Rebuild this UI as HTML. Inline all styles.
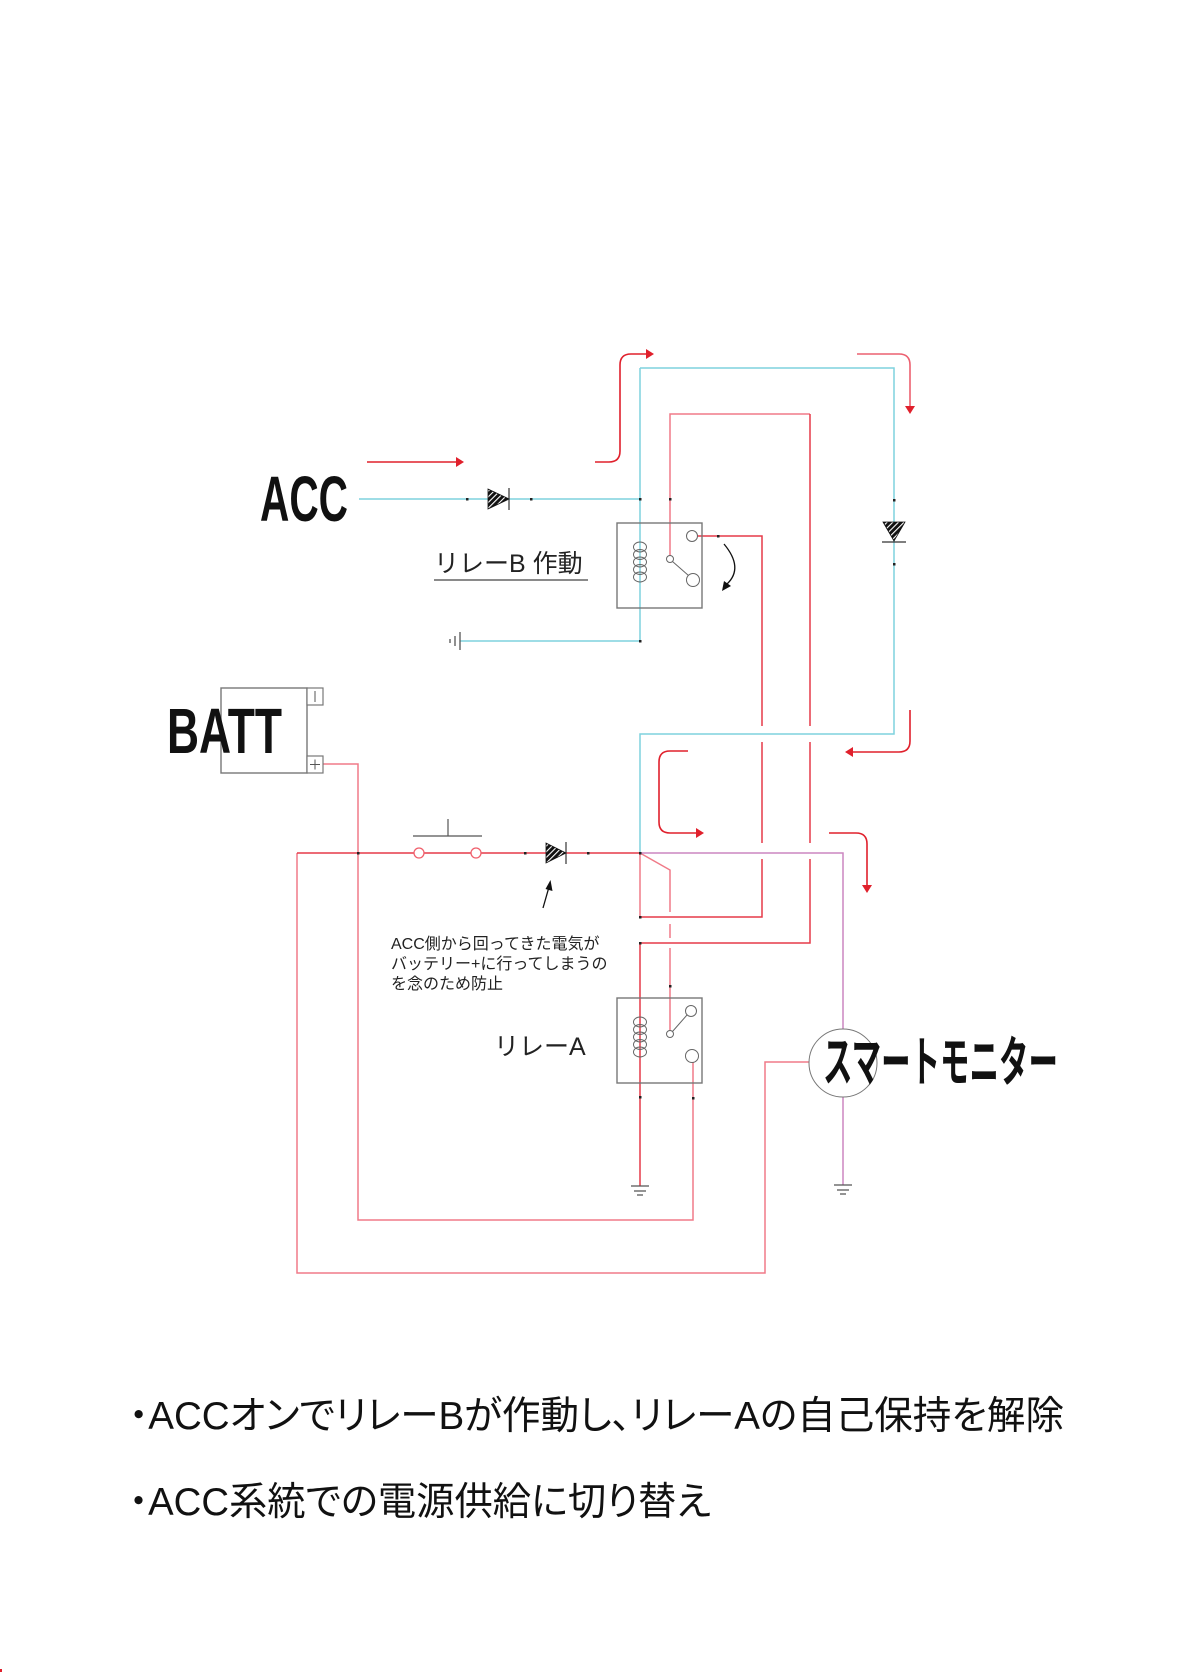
<!DOCTYPE html>
<html><head><meta charset="utf-8"><style>
html,body{margin:0;padding:0;background:#fff;}
svg{display:block;}
text{font-family:"Liberation Sans","Noto Sans CJK JP",sans-serif;}
</style></head><body>
<svg width="1190" height="1680" viewBox="0 0 1190 1680" xmlns="http://www.w3.org/2000/svg">
<defs>
<pattern id="h" width="4" height="4" patternUnits="userSpaceOnUse" patternTransform="rotate(45)">
<rect width="4" height="4" fill="#111"/><rect width="1.1" height="4" fill="#fff"/>
</pattern>
</defs>
<rect width="1190" height="1680" fill="#fff"/>

<!-- ===== red flow arrows ===== -->
<g fill="none" stroke="#e0202c" stroke-width="1.6">
<path d="M367,462 H456"/>
<path d="M595,462 H609 Q620,462 620,451 V365 Q620,354 631,354 H647"/>
<path d="M857,354 H899 Q910,354 910,365 V407" stroke="#ec6070"/>
<path d="M910,710 V741 Q910,752 899,752 H851"/>
<path d="M688,751 H670 Q659,751 659,762 V822 Q659,833 670,833 H697"/>
<path d="M829,833 H856 Q867,833 867,844 V886"/>
</g>
<g fill="#e0202c">
<polygon points="456,457 464,462 456,467"/>
<polygon points="646,349 654,354 646,359"/>
<polygon points="905,406 915,406 910,414"/>
<polygon points="853,747 845,752 853,757"/>
<polygon points="696,828 704,833 696,838"/>
<polygon points="862,885 872,885 867,893"/>
</g>

<!-- ===== cyan wires ===== -->
<g fill="none" stroke="#7fd2de" stroke-width="1.5">
<path d="M359,499 H640"/>
<path d="M640,368 V641"/>
<path d="M460,641 H640"/>
<path d="M640,368 H894 V734 H640 V853"/>
</g>

<!-- ===== red wires ===== -->
<g fill="none" stroke="#f07a88" stroke-width="1.5">
<path d="M670,556 V414 H810"/>
<path d="M640,853 V917"/>
<path d="M640,853 L670,870 V912 M670,924 V938 M670,948 V1031"/>
<path d="M323,764 H358 V1220 H693 V1062"/>
<path d="M297,853 V1273 H765 V1062 H809"/>
</g>
<g fill="none" stroke="#e63a48" stroke-width="1.5">
<path d="M810,414 V726 M810,742 V843 M810,859 V943 H640"/>
<path d="M697,536 H762 V726 M762,742 V843 M762,859 V917 H640"/>
<path d="M640,943 V1186"/>
<path d="M297,853 H414 M424,853 H471 M481,853 H640"/>
</g>
<!-- pink wire -->
<g fill="none" stroke="#cc86c0" stroke-width="1.5">
<path d="M640,853 H843 V1029"/>
<path d="M843,1097 V1185"/>
</g>

<!-- ===== switch ===== -->
<circle cx="419" cy="853" r="5" fill="#fff" stroke="#f0606c" stroke-width="1.3"/>
<circle cx="476" cy="853" r="5" fill="#fff" stroke="#f0606c" stroke-width="1.3"/>
<path d="M413,836 H482 M448,819 V836" stroke="#555" stroke-width="1.2" fill="none"/>

<!-- ===== diodes ===== -->
<polygon points="488,489 488,509 509,499" fill="url(#h)" stroke="#111" stroke-width="0.8"/>
<path d="M509,488 V510" stroke="#333" stroke-width="1.2"/>
<polygon points="546,843 546,863 566,853" fill="url(#h)" stroke="#111" stroke-width="0.8"/>
<path d="M566,842 V864" stroke="#333" stroke-width="1.2"/>
<polygon points="883,522 905,522 894,541" fill="url(#h)" stroke="#111" stroke-width="0.8"/>
<path d="M882,542 H906" stroke="#333" stroke-width="1.2"/>

<!-- ===== relay B ===== -->
<rect x="617" y="523" width="85" height="85" fill="none" stroke="#777" stroke-width="1.4"/>
<g fill="none" stroke="#666" stroke-width="1">
<ellipse cx="640" cy="547" rx="6.5" ry="5"/>
<ellipse cx="640" cy="554.5" rx="6.5" ry="5"/>
<ellipse cx="640" cy="562" rx="6.5" ry="5"/>
<ellipse cx="640" cy="569.5" rx="6.5" ry="5"/>
<ellipse cx="640" cy="577" rx="6.5" ry="5"/>
<circle cx="692" cy="536" r="5.5"/>
<circle cx="670" cy="559" r="3.5"/>
<circle cx="693" cy="580" r="6.5"/>
<path d="M672.5,561.5 L688.5,575.5"/>
</g>
<path d="M724,544 Q744,568 727,584" fill="none" stroke="#111" stroke-width="1.3"/>
<polygon points="722,591 724,581 731,586" fill="#111"/>

<!-- ===== relay A ===== -->
<rect x="617" y="998" width="85" height="85" fill="none" stroke="#777" stroke-width="1.4"/>
<g fill="none" stroke="#666" stroke-width="1">
<ellipse cx="640" cy="1022" rx="6.5" ry="5"/>
<ellipse cx="640" cy="1029.5" rx="6.5" ry="5"/>
<ellipse cx="640" cy="1037" rx="6.5" ry="5"/>
<ellipse cx="640" cy="1044.5" rx="6.5" ry="5"/>
<ellipse cx="640" cy="1052" rx="6.5" ry="5"/>
<circle cx="670" cy="1034" r="3.5"/>
<circle cx="691" cy="1011" r="5.5"/>
<circle cx="692" cy="1056" r="6.5"/>
<path d="M672.5,1031.5 L687,1015"/>
</g>

<!-- ===== BATT ===== -->
<rect x="221" y="688" width="86" height="85" fill="#fff" stroke="#777" stroke-width="1.4"/>
<rect x="307" y="688" width="16" height="17" fill="#fff" stroke="#777" stroke-width="1.2"/>
<rect x="307" y="756" width="16" height="17" fill="#fff" stroke="#777" stroke-width="1.2"/>
<path d="M315,691 V702 M310,764.5 H320 M315,759.5 V769.5" stroke="#555" stroke-width="1"/>

<!-- ===== smart monitor ===== -->
<circle cx="843" cy="1063" r="34" fill="none" stroke="#777" stroke-width="1"/>

<!-- ===== grounds ===== -->
<g stroke="#555" stroke-width="1.3">
<path d="M460,632 V650 M455,636 V646 M450,639 V643"/>
<path d="M631,1186 H649 M634,1191 H646 M637,1195 H643"/>
<path d="M834,1185 H852 M837,1190 H849 M840,1194 H846"/>
</g>

<!-- ===== dots ===== -->
<g fill="#222">
<rect x="466" y="498" width="2.5" height="2.5"/>
<rect x="530" y="498" width="2.5" height="2.5"/>
<rect x="639" y="498" width="2.5" height="2.5"/>
<rect x="669" y="498" width="2.5" height="2.5"/>
<rect x="717" y="535" width="2.5" height="2.5"/>
<rect x="639" y="640" width="2.5" height="2.5"/>
<rect x="893" y="499" width="2.5" height="2.5"/>
<rect x="893" y="563" width="2.5" height="2.5"/>
<rect x="357" y="852" width="2.5" height="2.5"/>
<rect x="524" y="852" width="2.5" height="2.5"/>
<rect x="587" y="852" width="2.5" height="2.5"/>
<rect x="639" y="852" width="2.5" height="2.5"/>
<rect x="639" y="916" width="2.5" height="2.5"/>
<rect x="639" y="942" width="2.5" height="2.5"/>
<rect x="669" y="985" width="2.5" height="2.5"/>
<rect x="639" y="1096" width="2.5" height="2.5"/>
<rect x="692" y="1097" width="2.5" height="2.5"/>
</g>

<!-- small arrow -->
<path d="M543,908 L549,887" stroke="#111" stroke-width="1.3"/>
<polygon points="545.5,889 550.5,880 552.5,891" fill="#111"/>

<!-- ===== labels ===== -->
<text x="260" y="521" font-size="64" font-weight="700" textLength="88" lengthAdjust="spacingAndGlyphs" fill="#111">ACC</text>
<text x="167" y="753" font-size="64" font-weight="700" textLength="115" lengthAdjust="spacingAndGlyphs" fill="#111">BATT</text>
<text x="434" y="572" font-size="25" fill="#222">リレーB 作動</text>
<path d="M434,580 H588" stroke="#444" stroke-width="1.2"/>
<text x="494" y="1055" font-size="25" fill="#222">リレーA</text>
<text x="823" y="1081" font-size="54" font-weight="700" textLength="235" lengthAdjust="spacingAndGlyphs" fill="#111">スマートモニター</text>

<g font-size="16" fill="#222">
<text x="391" y="949">ACC側から回ってきた電気が</text>
<text x="391" y="969">バッテリー+に行ってしまうの</text>
<text x="391" y="989">を念のため防止</text>
</g>

<g font-size="39" fill="#111" style="font-feature-settings:'palt'">
<text x="129" y="1429" textLength="935" lengthAdjust="spacingAndGlyphs">・ACCオンでリレーBが作動し、リレーAの自己保持を解除</text>
<text x="129" y="1515" textLength="582" lengthAdjust="spacingAndGlyphs">・ACC系統での電源供給に切り替え</text>
</g>

<rect x="0" y="1669" width="2" height="3" fill="#e0202c"/>
</svg>
</body></html>
